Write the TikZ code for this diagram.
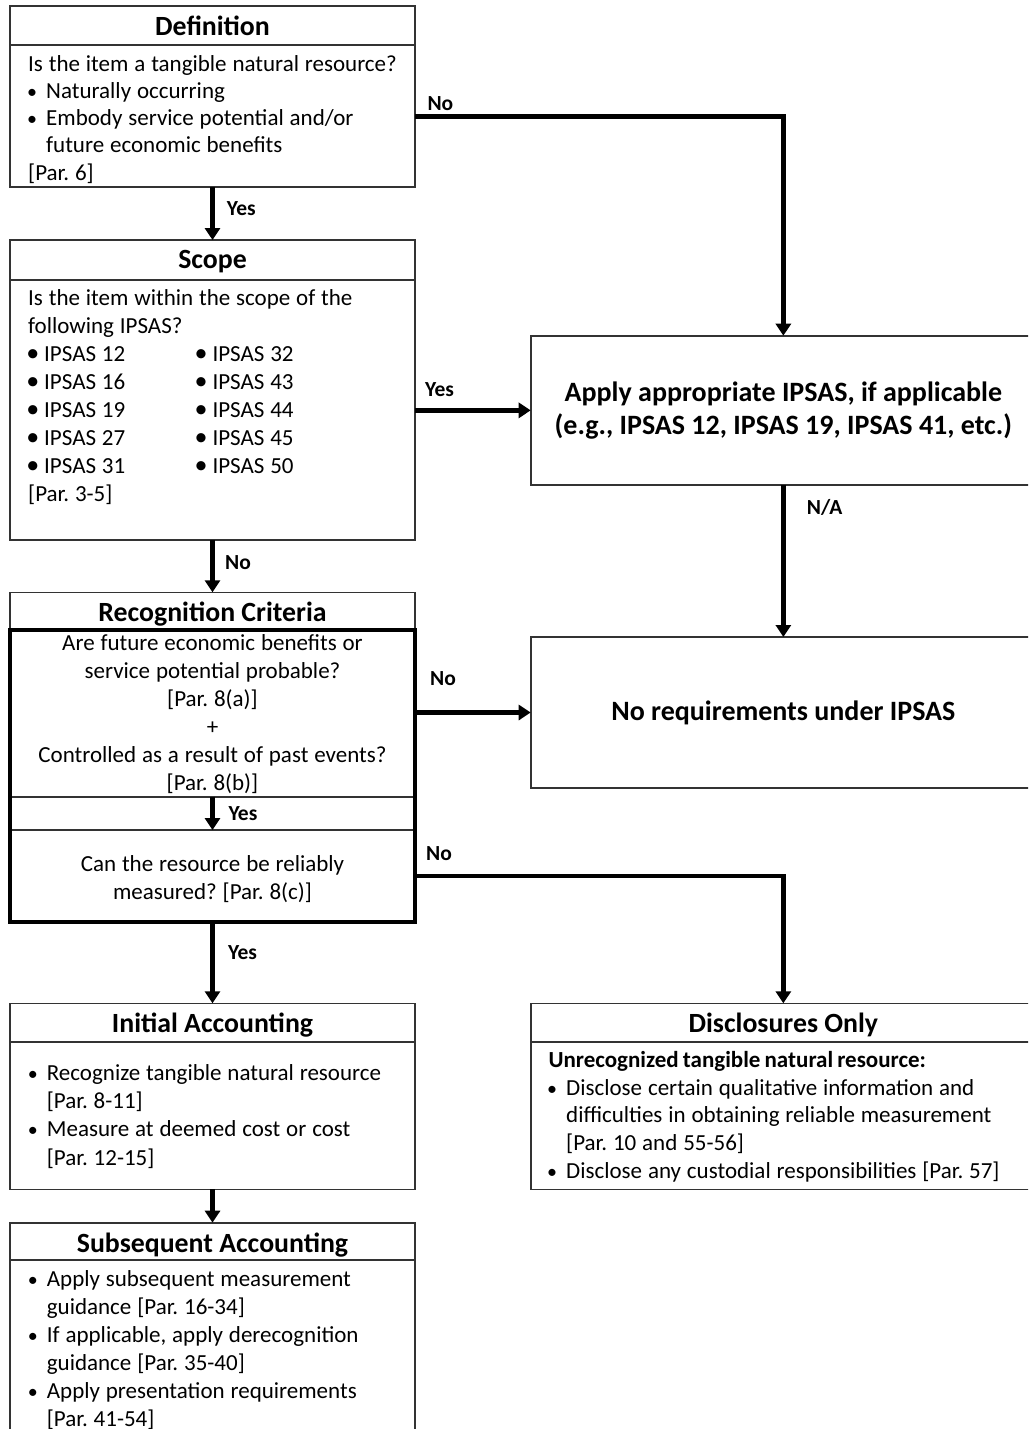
\documentclass[tikz,border=0pt]{standalone}
\usepackage{fontspec}
\setmainfont{Carlito}
\usetikzlibrary{arrows.meta}
\definecolor{bline}{gray}{0.2}
\frenchspacing
\newcommand\fs[2]{\fontsize{#1}{#2}\selectfont}
\newcommand\fsb[2]{\bfseries\fontsize{#1}{#2}\selectfont}
\newcommand\tightsp{\spaceskip=0.255em\relax}
\newcommand\bu{\leavevmode\llap{\fontsize{20}{20}\selectfont •\hspace{9pt}}}
\newcommand\bigbu{\leavevmode\llap{\fontsize{26}{26}\selectfont •\hspace{5pt}}}
\begin{document}
\begin{tikzpicture}[x=1pt,y=-1pt,
  box/.style={draw=bline, line width=1.6pt, inner sep=0pt, outer sep=0pt},
  thickbox/.style={draw=black, line width=3.5pt, inner sep=0pt, outer sep=0pt},
  sep/.style={draw=bline, line width=1.6pt},
  ttl/.style={font=\fsb{27.8}{33}, anchor=base, inner sep=0pt},
  bigtxt/.style={font=\fsb{28}{33.5}, align=center},
  body/.style={font=\fs{23}{28}, anchor=base west, align=left, inner sep=0pt, text width=480pt, execute at begin node=\tightsp},
  cbody/.style={font=\fs{23}{28}, anchor=base, align=center, inner sep=0pt, text width=400pt, execute at begin node=\tightsp},
  lbl/.style={font=\fsb{21.5}{26}, anchor=base west, inner sep=0pt},
  arr/.style={-{Triangle[length=12pt,width=15pt]}, line width=4.8pt, black},
]
\useasboundingbox (0,0) rectangle (1028,1429);
\fill[white] (0,0) rectangle (1028,1429);
\clip (0,0) rectangle (1028,1429);

% ---------- boxes ----------
\node[box, minimum width=405pt, minimum height=181pt] (def) at (212.5,96.5) {};
\node[box, minimum width=405pt, minimum height=300pt] (scope) at (212.5,390) {};
\node[box, minimum width=405pt, minimum height=37.7pt] (rectitle) at (212.5,611.15) {};
\node[box, minimum width=405pt, minimum height=166.7pt] (crit) at (212.5,713.35) {};
\node[box, minimum width=405pt, minimum height=92pt] (meas) at (212.5,876) {};
\node[thickbox, minimum width=405pt, minimum height=292pt] (recog) at (212.5,776) {};
\node[box, minimum width=405pt, minimum height=186pt] (init) at (212.5,1096.3) {};
\node[box, minimum width=405pt, minimum height=300pt] (subs) at (212.5,1372.7) {};

\node[box, bigtxt, minimum width=505.3pt, minimum height=149.3pt] (apply) at (783.35,410.35)
  {Apply appropriate IPSAS, if applicable\\(e.g., IPSAS 12, IPSAS 19, IPSAS 41, etc.)};
\node[box, bigtxt, minimum width=505.3pt, minimum height=151pt] (noreq) at (783.35,712.5)
  {No requirements under IPSAS};
\node[box, minimum width=505.3pt, minimum height=186pt] (disc) at (783.35,1096.3) {};

% ---------- title separators ----------
\coordinate (sdef) at (0,45);
\coordinate (sscope) at (0,280);
\coordinate (sinit) at (0,1041.7);
\coordinate (ssubs) at (0,1260);
\draw[sep] (def.west |- sdef) -- (def.east |- sdef);
\draw[sep] (scope.west |- sscope) -- (scope.east |- sscope);
\draw[sep] (init.west |- sinit) -- (init.east |- sinit);
\draw[sep] (subs.west |- ssubs) -- (subs.east |- ssubs);
\draw[sep] (disc.west |- sinit) -- (disc.east |- sinit);

% ---------- titles ----------
\node[ttl] (tdef) at (212.5,35.5) {Definition};
\node[ttl] (tscope) at (212.5,268.7) {Scope};
\node[ttl] (trec) at (212.5,621) {Recognition Criteria};
\node[ttl] (tinit) at (212.5,1032.5) {Initial Accounting};
\node[ttl] (tsub) at (212.5,1252) {Subsequent Accounting};
\node[ttl] (tdisc) at (783.35,1032.5) {Disclosures Only};

% ---------- body texts ----------
\node[body, font=\fs{23}{27.3}] (bdef) at (46,71) {%
\hspace*{-18pt}Is the item a tangible natural resource?\\
\bu Naturally occurring\\
\bu Embody service potential and/or\\
future economic benefits\\
\hspace*{-18pt}[Par. 6]};

\node[body] (bscope) at (44,305.7) {%
\hspace*{-16pt}Is the item within the scope of the\\
\hspace*{-16pt}following IPSAS?\\
\bigbu\makebox[168.3pt][l]{IPSAS 12}\bigbu IPSAS 32\\
\bigbu\makebox[168.3pt][l]{IPSAS 16}\bigbu IPSAS 43\\
\bigbu\makebox[168.3pt][l]{IPSAS 19}\bigbu IPSAS 44\\
\bigbu\makebox[168.3pt][l]{IPSAS 27}\bigbu IPSAS 45\\
\bigbu\makebox[168.3pt][l]{IPSAS 31}\bigbu IPSAS 50\\
\hspace*{-16pt}[Par. 3-5]};

\node[cbody, font=\fs{23}{28.1}] (bcrit) at (212.5,650) {%
Are future economic benefits or\\
service potential probable?\\
{[Par. 8(a)]}\\
+\\
Controlled as a result of past events?\\
{[Par. 8(b)]}};

\node[cbody, font=\fs{23}{27.6}] (bmeas) at (212.5,871.7) {%
Can the resource be reliably\\
measured? [Par. 8(c)]};

\node[body, font=\fs{23}{28.1}] (binit) at (46.7,1080.7) {%
\bu Recognize tangible natural resource\\
{[Par. 8-11]}\\
\bu Measure at deemed cost or cost\\
{[Par. 12-15]}};

\node[body] (bsubs) at (46.7,1286) {%
\bu Apply subsequent measurement\\
guidance [Par. 16-34]\\
\bu If applicable, apply derecognition\\
guidance [Par. 35-40]\\
\bu Apply presentation requirements\\
{[Par. 41-54]}};

\node[body, font=\fs{23}{27.8}] (bdisc) at (566,1067.3) {%
\hspace*{-17.7pt}{\bfseries\spaceskip=0.18em\relax Unrecognized tangible natural resource:}\\
\bu Disclose certain qualitative information and\\
difficulties in obtaining reliable measurement\\
{[Par. 10 and 55-56]}\\
\bu Disclose any custodial responsibilities [Par. 57]};

% ---------- connectors ----------
\coordinate (noY) at (0,116.7);
\draw[arr] (def.south) -- (scope.north);
\draw[arr, line join=miter] (def.east |- noY) -| (apply.north);
\draw[arr] (scope.east |- apply.west) -- (apply.west);
\draw[arr] (apply.south) -- (noreq.north);
\draw[arr] (scope.south) -- (rectitle.north);
\draw[arr] (crit.south) -- (meas.north);
\draw[arr] (crit.east |- noreq.west) -- (noreq.west);
\draw[arr, line join=miter] (meas.east) -| (disc.north);
\draw[arr] (recog.south) -- (init.north);
\draw[arr] (init.south) -- (subs.north);

% ---------- connector labels ----------
\node[lbl] (lyes1) at (226.7,215) {Yes};
\node[lbl] (lno1) at (427.3,110) {No};
\node[lbl] (lyes2) at (425,396) {Yes};
\node[lbl] (lna) at (806.7,514) {N/A};
\node[lbl] (lno2) at (225,569) {No};
\node[lbl] (lno3) at (430,685) {No};
\node[lbl] (lyes3) at (228.3,820.7) {Yes};
\node[lbl] (lno4) at (426,860) {No};
\node[lbl] (lyes4) at (228,959) {Yes};
\end{tikzpicture}
\end{document}
